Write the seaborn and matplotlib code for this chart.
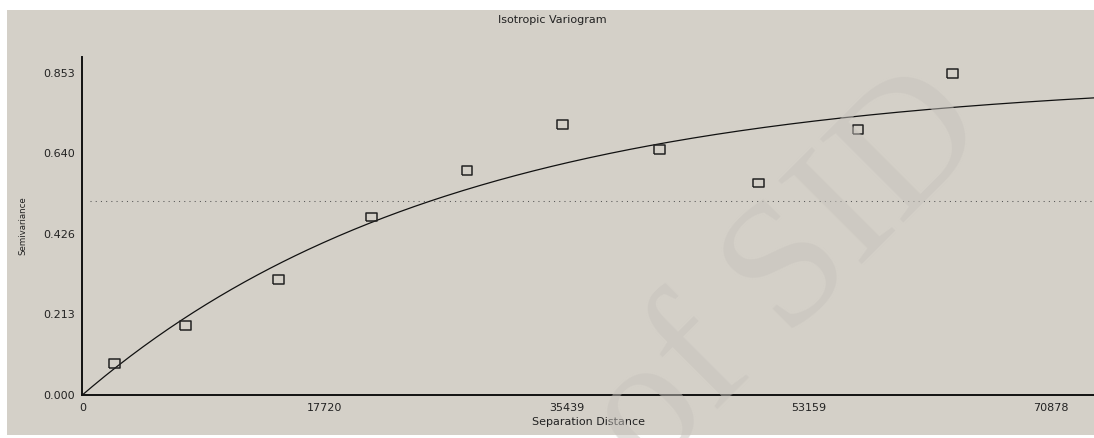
import numpy as np
import pandas as pd
import matplotlib
matplotlib.use("Agg")
import matplotlib.pyplot as plt
from matplotlib.patches import Rectangle
import seaborn as sns

# Experimental semivariogram (lag distance, semivariance)
lag_distance = [2342, 7539, 14346, 21153, 28157, 35162, 42261, 49507, 56776, 63707]
semivariance = [0.083, 0.183, 0.306, 0.471, 0.593, 0.715, 0.650, 0.561, 0.703, 0.851]

# Fitted exponential model and sample variance
model_sill = 0.84
model_range = 27000.0
sample_variance = 0.512

x_tick_values = [0, 17719.5, 35439, 53158.5, 70878]
x_tick_labels = ["0", "17720", "35439", "53159", "70878"]
y_tick_values = [0, 0.21325, 0.4265, 0.63975, 0.853]
y_tick_labels = ["0.000", "0.213", "0.426", "0.640", "0.853"]

X_MAX = 74050
Y_MAX = 0.894
BG = "#d4d0c8"

sns.set_style("white")
plt.rcParams["font.family"] = ["DejaVu Sans"]

fig = plt.figure(figsize=(10.94, 4.38), dpi=100, facecolor="white")
# grey panel with a thin white margin on the top and left
fig.patches.append(Rectangle((7 / 1094, 3 / 438), 1 - 7 / 1094, (438 - 13) / 438,
                             transform=fig.transFigure, facecolor=BG,
                             edgecolor="none", zorder=-10))

ax = fig.add_axes([82.3 / 1094, 43 / 438, 1 - 82.3 / 1094, 338 / 438])
ax.patch.set_alpha(0)

# model curve
h = np.linspace(0, X_MAX, 400)
curve = pd.DataFrame({"h": h, "gamma": model_sill * (1 - np.exp(-h / model_range))})
sns.lineplot(data=curve, x="h", y="gamma", ax=ax, color="#111111", linewidth=0.9,
             zorder=3)

# sample variance reference line
ax.hlines(sample_variance, 570, X_MAX, colors="#555555", linewidth=0.75,
          linestyles=(0, (1, 4)), zorder=2)

# experimental points
pts = pd.DataFrame({"lag": lag_distance, "gamma": semivariance})
rect_marker = [(-1.25, -1), (1.25, -1), (1.25, 1), (-1.25, 1), (-1.25, -1)]
sns.scatterplot(data=pts, x="lag", y="gamma", ax=ax, marker=rect_marker, s=62,
                facecolor="none", edgecolor="#222222", linewidth=1.1, zorder=4)

ax.set_xlim(0, X_MAX)
ax.set_ylim(0, Y_MAX)

ax.set_xticks(x_tick_values)
ax.set_xticklabels(x_tick_labels)
ax.set_yticks(y_tick_values)
ax.set_yticklabels(y_tick_labels)
ax.set_xticks(np.arange(0, X_MAX, x_tick_values[1] / 3), minor=True)
ax.set_yticks(np.arange(0, Y_MAX, y_tick_values[1] / 3), minor=True)

ax.tick_params(axis="x", which="both", direction="inout", length=5, width=1,
               color="#111111", labelsize=8, labelcolor="#222222", pad=3)
ax.tick_params(axis="y", which="both", direction="inout", length=8, width=1,
               color="#111111", labelsize=8, labelcolor="#222222", pad=1)

for side in ("top", "right"):
    ax.spines[side].set_visible(False)
for side in ("left", "bottom"):
    ax.spines[side].set_color("#111111")
    ax.spines[side].set_linewidth(1.4)

ax.set_xlabel("Separation Distance", fontsize=8, color="#222222", labelpad=3)
ax.set_ylabel("Semivariance", fontsize=6.2, color="#222222", labelpad=0)
ax.yaxis.set_label_coords(-55 / 1011.7, 0.5)
fig.text(552 / 1094, 1 - 20 / 438, "Isotropic Variogram", fontsize=8,
         color="#222222", ha="center", va="center")

# translucent watermark laid over the plot
fig.text(0.722, 0.372, "of SID", fontsize=130, family="Liberation Serif",
         color="#c6c2bc", alpha=0.5, rotation=45, ha="center", va="center",
         zorder=10)

fig.savefig("out.png", dpi=100, facecolor="white")
